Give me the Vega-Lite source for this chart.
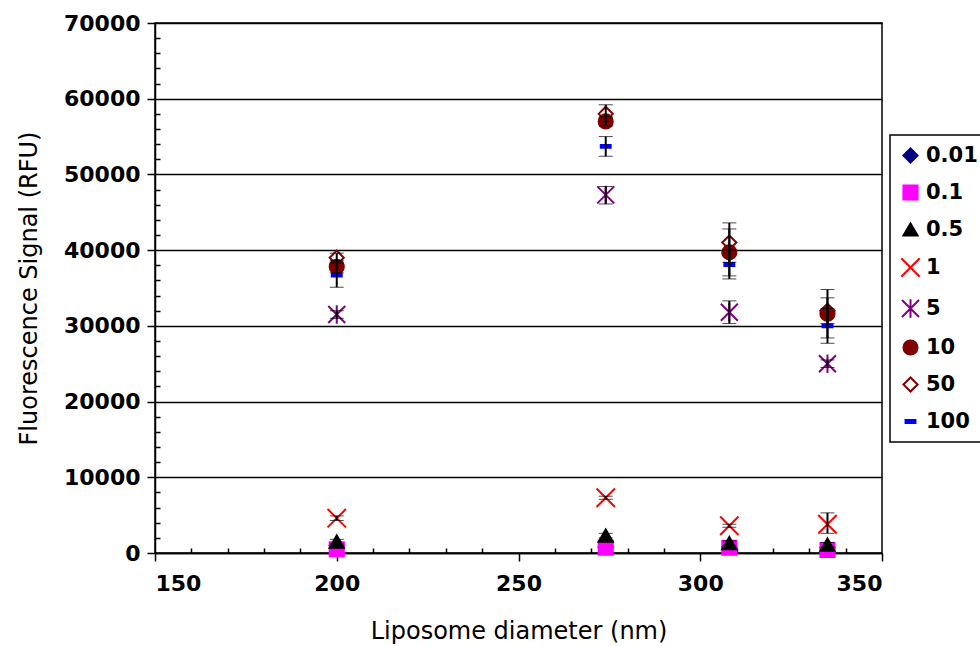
{
  "$schema": "https://vega.github.io/schema/vega-lite/v6.json",
  "width": 727,
  "height": 530,
  "autosize": {"type": "none"},
  "padding": {"left": 155, "top": 23, "right": 98, "bottom": 93},
  "background": "white",
  "config": {
    "view": {"stroke": "black", "strokeWidth": 1.5},
    "font": "DejaVu Sans",
    "axis": {
      "labelFont": "DejaVu Sans",
      "labelFontSize": 22,
      "labelFontWeight": "bold",
      "labelColor": "black",
      "titleFont": "DejaVu Sans",
      "titleFontSize": 24,
      "titleFontWeight": "normal",
      "titleColor": "black",
      "tickColor": "black",
      "tickWidth": 1.5,
      "domainColor": "black",
      "domainWidth": 1.5,
      "gridColor": "black",
      "gridWidth": 1.5,
      "gridOpacity": 1
    },
    "legend": {
      "orient": "none",
      "legendX": 735,
      "legendY": 112,
      "strokeColor": "black",
      "strokeWidth": 1.5,
      "padding": 10,
      "labelFont": "DejaVu Sans",
      "labelFontSize": 21,
      "labelFontWeight": "bold",
      "labelColor": "black",
      "symbolSize": 200,
      "symbolStrokeWidth": 2,
      "rowPadding": 14,
      "labelOffset": 5
    }
  },
  "data": {
    "values": [
      {"conc": "0.01", "diameter": 200, "signal": 1000},
      {"conc": "0.01", "diameter": 274, "signal": 800},
      {"conc": "0.01", "diameter": 308, "signal": 800},
      {"conc": "0.01", "diameter": 335, "signal": 700},
      {"conc": "0.1", "diameter": 200, "signal": 500},
      {"conc": "0.1", "diameter": 274, "signal": 700},
      {"conc": "0.1", "diameter": 308, "signal": 700},
      {"conc": "0.1", "diameter": 335, "signal": 400},
      {"conc": "0.5", "diameter": 200, "signal": 1500, "lo": 1200, "hi": 1800},
      {"conc": "0.5", "diameter": 274, "signal": 2300, "lo": 2000, "hi": 2600},
      {"conc": "0.5", "diameter": 308, "signal": 1300, "lo": 1000, "hi": 1600},
      {"conc": "0.5", "diameter": 335, "signal": 1100, "lo": 800, "hi": 1400},
      {"conc": "1", "diameter": 200, "signal": 4600, "lo": 4300, "hi": 4900},
      {"conc": "1", "diameter": 274, "signal": 7300, "lo": 7100, "hi": 7500},
      {"conc": "1", "diameter": 308, "signal": 3600, "lo": 3400, "hi": 3800},
      {"conc": "1", "diameter": 335, "signal": 3800, "lo": 2600, "hi": 5300},
      {"conc": "5", "diameter": 200, "signal": 31500, "lo": 31000, "hi": 32000},
      {"conc": "5", "diameter": 274, "signal": 47300, "lo": 46100, "hi": 48400},
      {"conc": "5", "diameter": 308, "signal": 31800, "lo": 30300, "hi": 33300},
      {"conc": "5", "diameter": 335, "signal": 25000, "lo": 24500, "hi": 25500},
      {"conc": "10", "diameter": 200, "signal": 37800, "lo": 37000, "hi": 38600},
      {"conc": "10", "diameter": 274, "signal": 57000, "lo": 56400, "hi": 57600},
      {"conc": "10", "diameter": 308, "signal": 39700, "lo": 36600, "hi": 42800},
      {"conc": "10", "diameter": 335, "signal": 31600, "lo": 28400, "hi": 34800},
      {"conc": "50", "diameter": 200, "signal": 39000, "lo": 38400, "hi": 39600},
      {"conc": "50", "diameter": 274, "signal": 58000, "lo": 57000, "hi": 59200},
      {"conc": "50", "diameter": 308, "signal": 41000, "lo": 38400, "hi": 43600},
      {"conc": "50", "diameter": 335, "signal": 32000, "lo": 30300, "hi": 33700},
      {"conc": "100", "diameter": 200, "signal": 36700, "lo": 35100, "hi": 38300},
      {"conc": "100", "diameter": 274, "signal": 53700, "lo": 52400, "hi": 55000},
      {"conc": "100", "diameter": 308, "signal": 38100, "lo": 36200, "hi": 40000},
      {"conc": "100", "diameter": 335, "signal": 30000, "lo": 27700, "hi": 32300}
    ]
  },
  "layer": [
    {
      "mark": {"type": "point", "filled": true, "size": 200, "strokeWidth": 2, "opacity": 1},
      "encoding": {
        "x": {
          "field": "diameter", "type": "quantitative",
          "scale": {"domain": [150, 350], "nice": false, "zero": false},
          "axis": {"values": [150, 200, 250, 300, 350], "tickSize": 8, "labelPadding": 12, "title": "Liposome diameter (nm)", "titlePadding": 25, "grid": false, "format": "d"}
        },
        "y": {
          "field": "signal", "type": "quantitative",
          "scale": {"domain": [0, 70000], "nice": false},
          "axis": {"values": [0, 10000, 20000, 30000, 40000, 50000, 60000, 70000], "tickSize": 8, "labelPadding": 7, "title": "Fluorescence Signal (RFU)", "titlePadding": 22, "grid": true, "format": "d"}
        },
        "shape": {
          "field": "conc", "type": "nominal",
          "scale": {
            "domain": ["0.01", "0.1", "0.5", "1", "5", "10", "50", "100"],
            "range": ["diamond", "square", "triangle-up", "M-1.3,-1.3L1.3,1.3M-1.3,1.3L1.3,-1.3", "M-1.2,-1.2L1.2,1.2M-1.2,1.2L1.2,-1.2M0,-1.3L0,1.3", "circle", "diamond", "M-0.7,-0.2L0.7,-0.2L0.7,0.2L-0.7,0.2Z"]
          },
          "legend": {"title": null}
        },
        "fill": {
          "field": "conc", "type": "nominal",
          "scale": {
            "domain": ["0.01", "0.1", "0.5", "1", "5", "10", "50", "100"],
            "range": ["#000080", "#FF00FF", "#000000", "transparent", "transparent", "#800000", "transparent", "#0000FF"]
          },
          "legend": {"title": null}
        },
        "stroke": {
          "field": "conc", "type": "nominal",
          "scale": {
            "domain": ["0.01", "0.1", "0.5", "1", "5", "10", "50", "100"],
            "range": ["#000080", "#FF00FF", "#000000", "#FF0000", "#800080", "#800000", "#800000", "#0000FF"]
          },
          "legend": {"title": null}
        }
      }
    },
    {
      "transform": [{"filter": "isValid(datum.lo)"}],
      "mark": {"type": "errorbar", "color": "black", "ticks": {"size": 14, "strokeWidth": 2.5}, "rule": {"strokeWidth": 2}},
      "encoding": {
        "x": {
          "field": "diameter", "type": "quantitative",
          "axis": {"values": [160, 170, 180, 190, 210, 220, 230, 240, 260, 270, 280, 290, 310, 320, 330, 340], "tickSize": -5, "labels": false, "domain": false, "grid": false, "title": null, "orient": "bottom"}
        },
        "y": {
          "field": "lo", "type": "quantitative",
          "axis": {"values": [2000, 4000, 6000, 8000, 12000, 14000, 16000, 18000, 22000, 24000, 26000, 28000, 32000, 34000, 36000, 38000, 42000, 44000, 46000, 48000, 52000, 54000, 56000, 58000, 62000, 64000, 66000, 68000], "tickSize": -5, "labels": false, "domain": false, "grid": false, "title": null, "orient": "left"}
        },
        "y2": {"field": "hi"}
      }
    }
  ],
  "resolve": {"axis": {"x": "independent", "y": "independent"}}
}
